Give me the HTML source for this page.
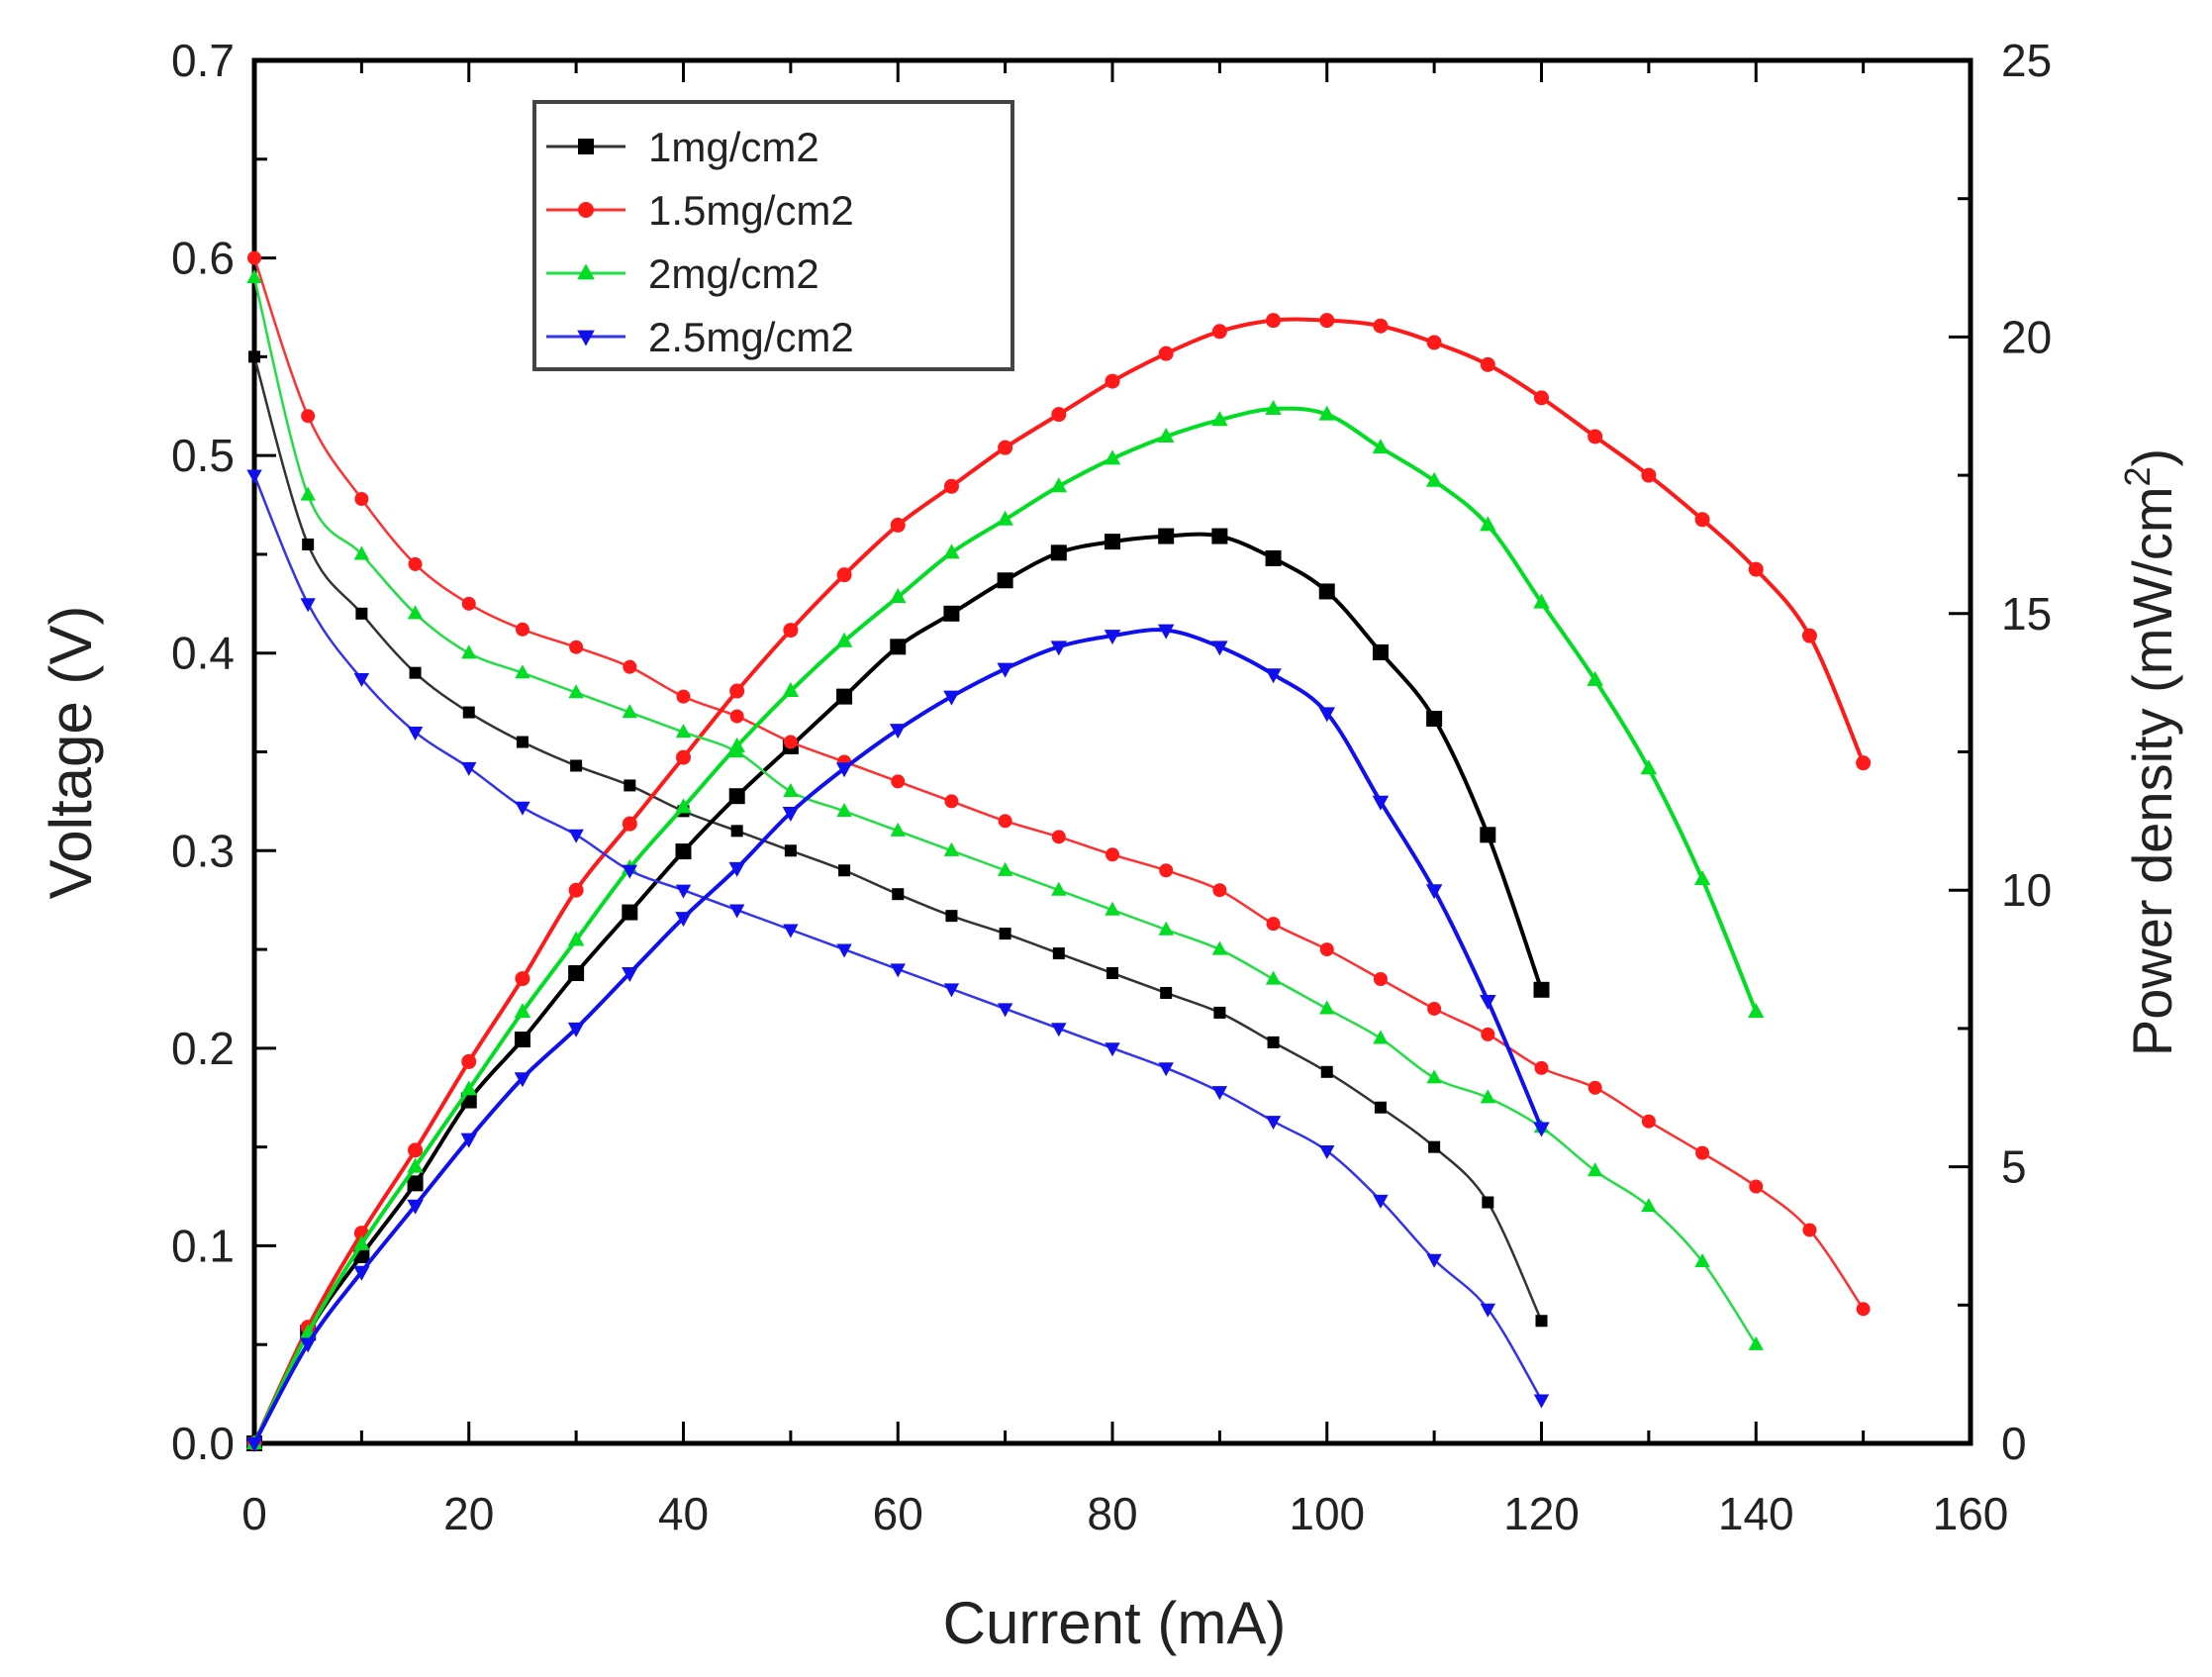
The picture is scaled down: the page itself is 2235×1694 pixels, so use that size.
<!DOCTYPE html>
<html><head><meta charset="utf-8"><style>
html,body{margin:0;padding:0;background:#fff;}
svg{display:block;font-family:"Liberation Sans",Arial,sans-serif;}
</style></head><body>
<svg id="chart" width="2235" height="1694" viewBox="0 0 2235 1694">
<g id="axes"></g>
<g id="series"></g>
<g id="legend"></g>
</svg>
<script>
const currents = [0,5,10,15,20,25,30,35,40,45,50,55,60,65,70,75,80,85,90,95,100,105,110,115,120,125,130,135,140,145,150];
const seriesNames = ["1mg/cm2","1.5mg/cm2","2mg/cm2","2.5mg/cm2"];
const voltBlack = [0.55,0.455,0.42,0.39,0.37,0.355,0.343,0.333,0.32,0.31,0.30,0.29,0.278,0.267,0.258,0.248,0.238,0.228,0.218,0.203,0.188,0.17,0.15,0.122,0.062];
const voltRed = [0.60,0.52,0.478,0.445,0.425,0.412,0.403,0.393,0.378,0.368,0.355,0.345,0.335,0.325,0.315,0.307,0.298,0.29,0.28,0.263,0.25,0.235,0.22,0.207,0.19,0.18,0.163,0.147,0.13,0.108,0.068];
const voltGreen = [0.59,0.48,0.45,0.42,0.40,0.39,0.38,0.37,0.36,0.35,0.33,0.32,0.31,0.30,0.29,0.28,0.27,0.26,0.25,0.235,0.22,0.205,0.185,0.175,0.16,0.138,0.12,0.092,0.05];
const voltBlue = [0.49,0.425,0.387,0.36,0.342,0.322,0.308,0.29,0.28,0.27,0.26,0.25,0.24,0.23,0.22,0.21,0.2,0.19,0.178,0.163,0.148,0.123,0.093,0.068,0.022];
const powBlack = [0,2.0,3.4,4.7,6.2,7.3,8.5,9.6,10.7,11.7,12.6,13.5,14.4,15.0,15.6,16.1,16.3,16.4,16.4,16.0,15.4,14.3,13.1,11.0,8.2];
const powRed = [0,2.1,3.8,5.3,6.9,8.4,10.0,11.2,12.4,13.6,14.7,15.7,16.6,17.3,18.0,18.6,19.2,19.7,20.1,20.3,20.3,20.2,19.9,19.5,18.9,18.2,17.5,16.7,15.8,14.6,12.3];
const powGreen = [0,2.0,3.6,5.0,6.4,7.8,9.1,10.4,11.5,12.6,13.6,14.5,15.3,16.1,16.7,17.3,17.8,18.2,18.5,18.7,18.6,18.0,17.4,16.6,15.2,13.8,12.2,10.2,7.8];
const powBlue = [0,1.8,3.1,4.3,5.5,6.6,7.5,8.5,9.5,10.4,11.4,12.2,12.9,13.5,14.0,14.4,14.6,14.7,14.4,13.9,13.2,11.6,10.0,8.0,5.7];
const xTicks = [0,20,40,60,80,100,120,140,160];
const yTicks = ["0.0","0.1","0.2","0.3","0.4","0.5","0.6","0.7"];
const y2Ticks = [0,5,10,15,20,25];

const L=257,R=1991,T=61,B=1458;
const sx=v=>L+(R-L)*v/160;
const sy=v=>B-(B-T)*v/0.7;
const sy2=v=>B-(B-T)*v/25;
const NS="http://www.w3.org/2000/svg";
function mk(tag,attrs,parent){const e=document.createElementNS(NS,tag);for(const k in attrs)e.setAttribute(k,attrs[k]);parent.appendChild(e);return e;}
const axes=document.getElementById('axes'),ser=document.getElementById('series'),leg=document.getElementById('legend');

let frame=mk('rect',{x:L,y:T,width:R-L,height:B-T,fill:'none',stroke:'#000','stroke-width':5},axes);


for(let v=0;v<=160;v+=10){const maj=v%20===0,len=maj?22:13;
 mk('line',{x1:sx(v),x2:sx(v),y1:B,y2:B-len,stroke:'#000','stroke-width':3},axes);
 mk('line',{x1:sx(v),x2:sx(v),y1:T,y2:T+len,stroke:'#000','stroke-width':3},axes);}
xTicks.forEach(v=>{const t=mk('text',{x:sx(v),y:1545,'font-size':46,'text-anchor':'middle',fill:'#222'},axes);t.textContent=v;
 
 });
for(let i=0;i<=14;i++){const v=i*0.05,len=i%2===0?22:13;
 mk('line',{x1:L,x2:L+len,y1:sy(v),y2:sy(v),stroke:'#000','stroke-width':3},axes);}
yTicks.forEach(s=>{const t=mk('text',{x:237,y:sy(parseFloat(s))+16,'font-size':46,'text-anchor':'end',fill:'#222'},axes);t.textContent=s;
 
 });
for(let i=0;i<=10;i++){const v=i*2.5,len=i%2===0?22:13;
 mk('line',{x1:R,x2:R-len,y1:sy2(v),y2:sy2(v),stroke:'#000','stroke-width':3},axes);}
y2Ticks.forEach(v=>{const t=mk('text',{x:2022,y:sy2(v)+16,'font-size':46,fill:'#222'},axes);t.textContent=v;
 
 });
let xt=mk('text',{x:1126,y:1660,'font-size':60,'text-anchor':'middle',fill:'#222'},axes);xt.textContent='Current (mA)';


let yt=mk('text',{x:0,y:0,'font-size':60,'text-anchor':'middle',fill:'#222',transform:'translate(92,760) rotate(-90)'},axes);yt.textContent='Voltage (V)';


let y2t=mk('text',{x:0,y:0,'font-size':56,'text-anchor':'middle',fill:'#222',transform:'translate(2194,760) rotate(-90)'},axes);
y2t.innerHTML='Power density (mW/cm<tspan font-size="36" dy="-22">2</tspan><tspan dy="22">)</tspan>';



function path(pts){let d=`M${pts[0][0]},${pts[0][1]}`;
 for(let i=0;i<pts.length-1;i++){const p0=pts[Math.max(0,i-1)],p1=pts[i],p2=pts[i+1],p3=pts[Math.min(pts.length-1,i+2)];
  d+=` C${p1[0]+(p2[0]-p0[0])/6},${p1[1]+(p2[1]-p0[1])/6} ${p2[0]-(p3[0]-p1[0])/6},${p2[1]-(p3[1]-p1[1])/6} ${p2[0]},${p2[1]}`;}
 return d;}
function marker(shape,x,y,s,col,g){
 if(shape==='sq')return mk('rect',{x:x-s,y:y-s,width:2*s,height:2*s,fill:col},g);
 if(shape==='ci')return mk('circle',{cx:x,cy:y,r:s,fill:col},g);
 if(shape==='up')return mk('polygon',{points:`${x},${y-s*1.2} ${x-s*1.1},${y+s*0.8} ${x+s*1.1},${y+s*0.8}`,fill:col},g);
 return mk('polygon',{points:`${x},${y+s*1.2} ${x-s*1.1},${y-s*0.8} ${x+s*1.1},${y-s*0.8}`,fill:col},g);}
const defs=[
 ['black',voltBlack,powBlack,'#000','sq','#333'],
 ['red',voltRed,powRed,'#ff1a1a','ci','#ff3030'],
 ['green',voltGreen,powGreen,'#00dd22','up','#22dd44'],
 ['blue',voltBlue,powBlue,'#1010ee','dn','#3333ee']];
defs.forEach(([nm,vs,ps,col,shp,lc])=>{
 const gv=mk('g',{},ser);
 
 
 const pv=vs.map((v,i)=>[sx(currents[i]),sy(v)]);
 mk('path',{d:path(pv),fill:'none',stroke:lc,'stroke-width':2.5},gv);
 pv.forEach(p=>marker(shp,p[0],p[1],shp==='sq'?6:7,col,gv));
 const gp=mk('g',{},ser);
 
 
 const pp=ps.map((v,i)=>[sx(currents[i]),sy2(v)]);
 mk('path',{d:path(pp),fill:'none',stroke:col,'stroke-width':4},gp);
 pp.forEach(p=>marker(shp,p[0],p[1],shp==='sq'?8:7.5,col,gp));
});
let lb=mk('rect',{x:540,y:103,width:483,height:270,fill:'#fff',stroke:'#444','stroke-width':4},leg);


defs.forEach(([nm,vs,ps,col,shp,lc],i)=>{const y=148+i*64;
 const g=mk('g',{},leg);
 
 
 mk('line',{x1:552,x2:632,y1:y,y2:y,stroke:lc,'stroke-width':3},g);
 marker(shp,592,y,8,col,g);
 const t=mk('text',{x:655,y:y+15,'font-size':42,fill:'#222'},g);t.textContent=seriesNames[i];});
</script>
</body></html>
